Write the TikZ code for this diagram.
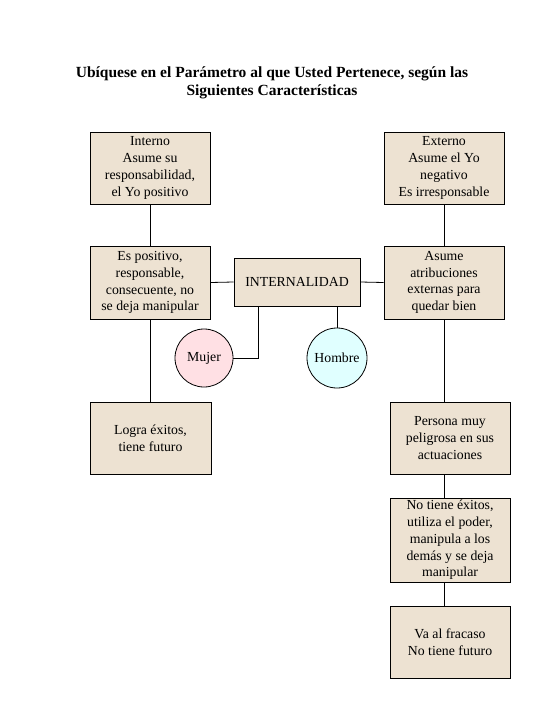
\documentclass[tikz,border=0pt]{standalone}
\usepackage{fontspec}
\setmainfont{Liberation Serif}
\definecolor{boxfill}{RGB}{237,226,210}
\definecolor{mujerfill}{RGB}{255,224,228}
\definecolor{hombrefill}{RGB}{224,255,255}
\begin{document}
\begin{tikzpicture}[x=1pt,y=-1pt,
  box/.style={draw=black, fill=boxfill, line width=0.8pt, minimum width=120pt, align=center, inner sep=0pt,
    font=\fontsize{13.8}{16.8}\selectfont},
  circ/.style={draw=black, circle, line width=0.8pt, inner sep=0pt, font=\fontsize{13.8}{16.8}\selectfont},
  conn/.style={line width=0.8pt}]
\useasboundingbox (0,0) rectangle (540,720);
\node[font=\bfseries\fontsize{15.5}{18.5}\selectfont, align=center] (title) at (272,83)
  {Ubíquese en el Parámetro al que Usted Pertenece, según las\\Siguientes Características};
\node[box, minimum height=72pt] (interno) at (150,168) {Interno\\Asume su\\responsabilidad,\\el Yo positivo};
\node[box, minimum height=73pt] (espos) at (150,282.5) {Es positivo,\\responsable,\\consecuente, no\\se deja manipular};
\node[box, minimum width=126pt, minimum height=48pt] (int) at (297,282) {INTERNALIDAD};
\node[box, minimum height=72pt] (externo) at (444,168) {Externo\\Asume el Yo\\negativo\\Es irresponsable};
\node[box, minimum height=73pt] (asume) at (444,282.5) {Asume\\atribuciones\\externas para\\quedar bien};
\node[circ, fill=mujerfill, minimum size=58pt] (mujer) at (204,358) {Mujer};
\node[circ, fill=hombrefill, minimum size=60pt] (hombre) at (337,358) {Hombre};
\node[box, minimum width=121pt, minimum height=72pt] (logra) at (150.5,438) {Logra éxitos,\\tiene futuro};
\node[box, minimum height=72pt] (persona) at (450,438) {Persona muy\\peligrosa en sus\\actuaciones};
\node[box, minimum height=84pt] (notiene) at (450,540) {No tiene éxitos,\\utiliza el poder,\\manipula a los\\demás y se deja\\manipular};
\node[box, minimum height=72pt] (va) at (450,642) {Va al fracaso\\No tiene futuro};
\coordinate (mj) at ([xshift=-39pt]int.south);
\draw[conn] (interno.south) -- (espos.north);
\draw[conn] (espos.south) -- (logra.north -| espos.south);
\draw[conn] (espos.east) -- (int.west);
\draw[conn] (int.east) -- (asume.west);
\draw[conn] (externo.south) -- (asume.north);
\draw[conn] (mj) |- (mujer.east);
\draw[conn] (hombre.north |- int.south) -- (hombre.north);
\draw[conn] (asume.south) -- (asume.south |- persona.north);
\draw[conn] (asume.south |- persona.south) -- (asume.south |- notiene.north);
\draw[conn] (asume.south |- notiene.south) -- (asume.south |- va.north);
\end{tikzpicture}
\end{document}
